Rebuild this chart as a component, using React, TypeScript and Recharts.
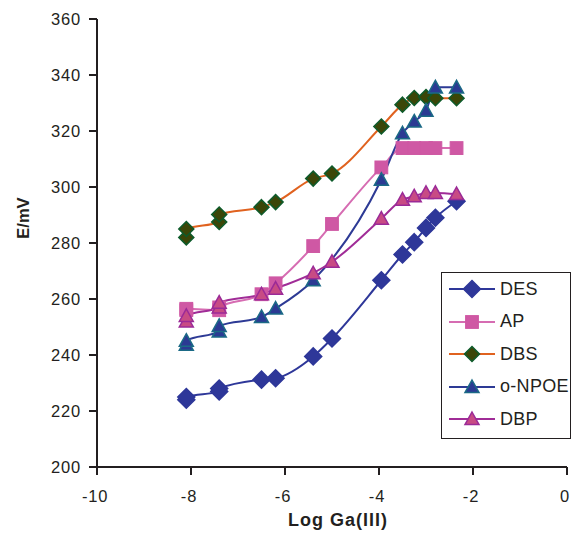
import { LineChart, Line, XAxis, YAxis, Label } from "recharts";

// log [Ga(III)] values (the first two concentrations were measured twice)
const logGa = [-8.1, -8.1, -7.4, -7.4, -6.5, -6.2, -5.4, -5.0, -3.95, -3.5, -3.25, -3.0, -2.8, -2.35];

// potentials in mV, one list per plasticizer
const des = [224, 225, 227, 228, 231.2, 231.7, 239.5, 245.9, 266.7, 275.9, 280.3, 285.4, 289, 294.9];
const ap = [256, 256.5, 256, 257, 261.7, 265.6, 278.9, 286.8, 307, 313.9, 313.9, 313.9, 313.9, 313.9];
const dbs = [282, 285, 287.5, 290.2, 292.8, 294.6, 303, 304.8, 321.6, 329.4, 331.8, 332.1, 331.7, 331.7];
const npoe = [243.7, 245.1, 248.4, 250.4, 253.6, 256.6, 266.7, null, 302.6, 319.2, 323.4, 327.3, 335.6, 335.6];
const dbp = [252, 254, 257, 258.7, 261.7, 263.7, 269.2, 273.3, 288.7, 295.5, 296.7, 297.9, 297.9, 297.5];

const xTicks = [-10, -8, -6, -4, -2, 0];
const yTicks = [200, 220, 240, 260, 280, 300, 320, 340, 360];

const data = logGa.map((x, i) => ({
  x,
  DES: des[i],
  AP: ap[i],
  DBS: dbs[i],
  "o-NPOE": npoe[i],
  DBP: dbp[i],
}));

type Shape = "diamond" | "square" | "triangle";

const series: {
  name: string;
  line: string;
  fill: string;
  stroke: string;
  shape: Shape;
  size: number;
}[] = [
  { name: "DES", line: "#2E3799", fill: "#2E3799", stroke: "#2E3799", shape: "diamond", size: 8.5 },
  { name: "AP", line: "#D66CB2", fill: "#CF58A4", stroke: "#CF58A4", shape: "square", size: 6.4 },
  { name: "DBS", line: "#E0621F", fill: "#3B4608", stroke: "#0E5B2B", shape: "diamond", size: 7.5 },
  { name: "o-NPOE", line: "#2D3A95", fill: "#2B3A93", stroke: "#1B6A86", shape: "triangle", size: 7 },
  { name: "DBP", line: "#A02C97", fill: "#C84B84", stroke: "#9B2A97", shape: "triangle", size: 7 },
];

const FONT = "'Liberation Sans', Arial, sans-serif";
const INK = "#231F20";

function Marker({ cx, cy, shape, size, fill, stroke }: any) {
  if (cx == null || cy == null || isNaN(cy)) return <g />;
  const r = size;
  if (shape === "diamond") {
    return (
      <path
        d={`M${cx},${cy - r}L${cx + r},${cy}L${cx},${cy + r}L${cx - r},${cy}Z`}
        fill={fill}
        stroke={stroke}
        strokeWidth={1.5}
      />
    );
  }
  if (shape === "square") {
    return <rect x={cx - r} y={cy - r} width={r * 2} height={r * 2} fill={fill} stroke={stroke} strokeWidth={1} />;
  }
  return (
    <path
      d={`M${cx},${cy - r}L${cx + r},${cy + r * 0.8}L${cx - r},${cy + r * 0.8}Z`}
      fill={fill}
      stroke={stroke}
      strokeWidth={1.5}
      strokeLinejoin="miter"
    />
  );
}

function ChartLegend() {
  return (
    <div
      style={{
        position: "absolute",
        left: 441,
        top: 272,
        width: 128,
        height: 165,
        border: `1.5px solid ${INK}`,
        background: "#fff",
        fontFamily: FONT,
        fontSize: 18,
        color: INK,
      }}
    >
      {series.map((s, i) => (
        <div
          key={s.name}
          style={{
            position: "absolute",
            left: 6,
            top: 4 + i * 32.6,
            height: 24,
            display: "flex",
            alignItems: "center",
            whiteSpace: "nowrap",
          }}
        >
          <svg width={48} height={24} style={{ display: "block", flex: "none" }}>
            <line x1={1} y1={12} x2={47} y2={12} stroke={s.line} strokeWidth={2} />
            <Marker cx={24} cy={12} shape={s.shape} size={s.size} fill={s.fill} stroke={s.stroke} />
          </svg>
          <span style={{ marginLeft: 4, letterSpacing: 0.3 }}>{s.name}</span>
        </div>
      ))}
    </div>
  );
}

export default function App() {
  return (
    <div style={{ position: "absolute", left: 0, top: 0, width: 580, height: 535, background: "#fff" }}>
      <LineChart width={580} height={535} data={data} margin={{ top: 19, right: 13, bottom: 38, left: 37 }}>
        <XAxis
          dataKey="x"
          type="number"
          domain={[-10, 0]}
          ticks={xTicks}
          height={30}
          axisLine={{ stroke: INK, strokeWidth: 2 }}
          tickLine={{ stroke: INK, strokeWidth: 2 }}
          tickSize={8}
          tickMargin={15}
          tick={{ fill: INK, fontSize: 16.5, fontFamily: FONT, dx: -2, letterSpacing: 0.8 } as any}
        >
          <Label
            content={() => (
              <text
                x={338}
                y={526}
                textAnchor="middle"
                fill={INK}
                fontFamily={FONT}
                fontWeight="bold"
                fontSize={18}
                letterSpacing={1}
              >
                Log Ga(III)
              </text>
            )}
          />
        </XAxis>
        <YAxis
          type="number"
          domain={[200, 360]}
          ticks={yTicks}
          width={60}
          axisLine={{ stroke: INK, strokeWidth: 2 }}
          tickLine={{ stroke: INK, strokeWidth: 2 }}
          tickSize={8}
          tickMargin={8}
          tick={{ fill: INK, fontSize: 16.5, fontFamily: FONT, letterSpacing: 0.8 } as any}
        >
          <Label
            content={() => (
              <text
                x={0}
                y={0}
                transform="translate(29,218) rotate(-90)"
                textAnchor="middle"
                fill={INK}
                fontFamily={FONT}
                fontWeight="bold"
                fontSize={16.5}
              >
                E/mV
              </text>
            )}
          />
        </YAxis>
        {series.map((s) => (
          <Line
            key={s.name}
            dataKey={s.name}
            type="monotone"
            stroke={s.line}
            strokeWidth={2}
            connectNulls
            isAnimationActive={false}
            activeDot={false}
            dot={(p: any) => (
              <Marker
                key={`${s.name}-${p.index}`}
                cx={p.cx}
                cy={p.cy}
                shape={s.shape}
                size={s.size}
                fill={s.fill}
                stroke={s.stroke}
              />
            )}
          />
        ))}
      </LineChart>
      <ChartLegend />
    </div>
  );
}
